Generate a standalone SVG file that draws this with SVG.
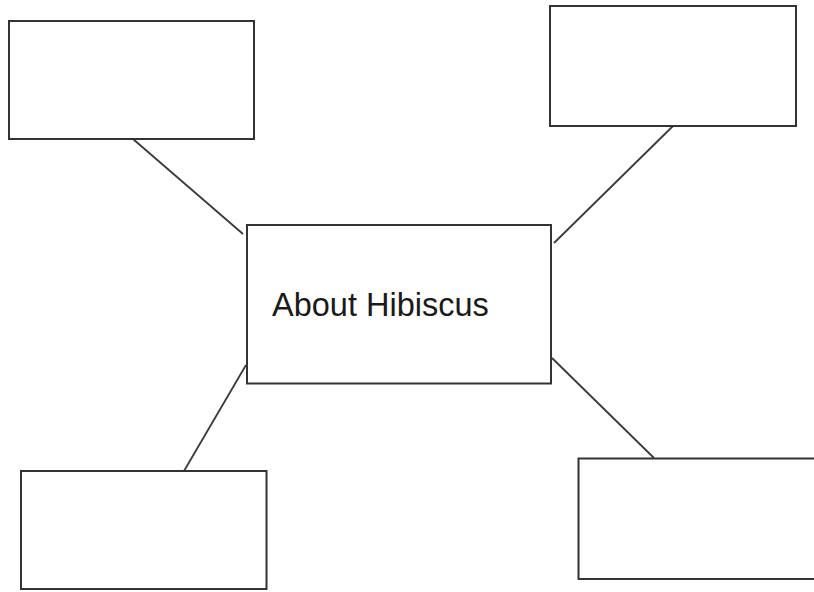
<svg xmlns="http://www.w3.org/2000/svg" width="814" height="592" viewBox="0 0 814 592">
<style>
.box{fill:#ffffff;stroke:#333333;stroke-width:2}
.conn{stroke:#3a3a3a;stroke-width:1.8;fill:none}
.lbl{font-family:"Liberation Sans",Arial,sans-serif;font-size:32.5px;fill:#1a1a1a}
</style>
<rect width="814" height="592" fill="#ffffff"/>
<g id="connectors">
<line class="conn" x1="133" y1="139" x2="243" y2="234"/>
<line class="conn" x1="673" y1="126" x2="554" y2="243"/>
<line class="conn" x1="246" y1="365" x2="184" y2="471"/>
<line class="conn" x1="552" y1="358" x2="654" y2="458"/>
</g>
<g id="node-top-left"><rect class="box" x="9" y="21" width="245" height="118"/></g>
<g id="node-top-right"><rect class="box" x="550" y="6" width="246" height="120"/></g>
<g id="node-bottom-left"><rect class="box" x="21" y="471" width="245.5" height="118"/></g>
<g id="node-bottom-right"><rect class="box" x="578.5" y="458.5" width="260" height="120.5"/></g>
<g id="node-center">
<rect class="box" x="247" y="225" width="304" height="158.5"/>
<text class="lbl" x="272" y="316">About Hibiscus</text>
</g>
</svg>
